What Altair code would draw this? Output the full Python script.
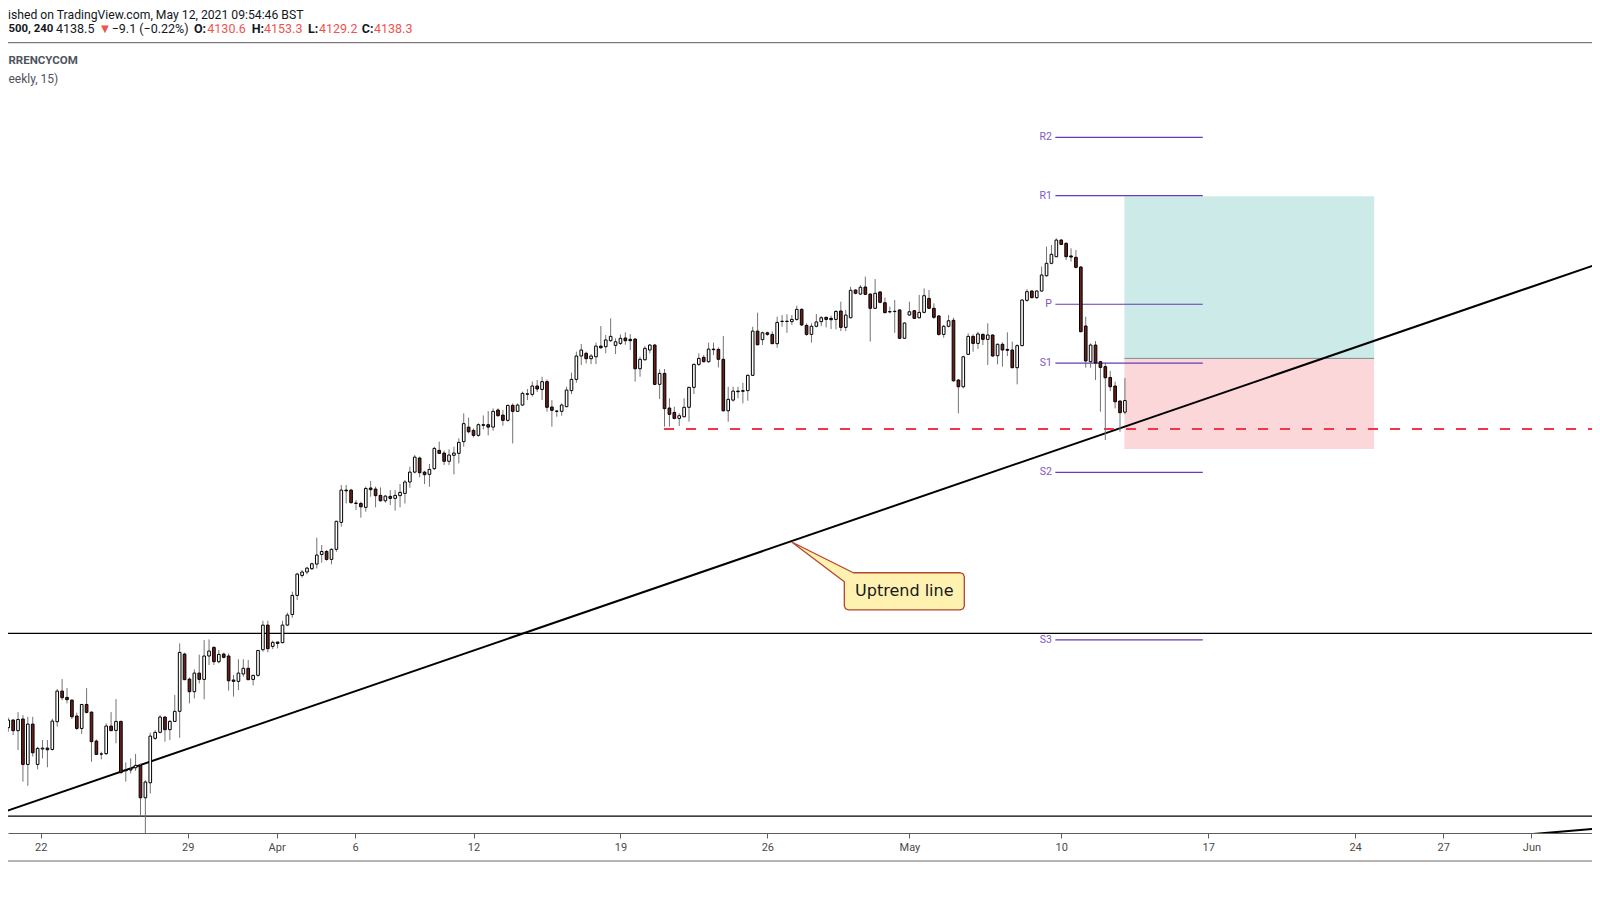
import altair as alt
import pandas as pd

# ---------------- data (4h candles, index 0 = first visible candle) ----------------
opens = [
3960.2, 3920.2, 3925.3, 3918.2, 3926.0, 3895.7, 3922.6, 3895.7, 3906.0, 3906.6,
3905.7, 3924.2, 3944.6, 3940.4, 3938.6, 3928.0, 3919.7, 3935.7, 3930.6, 3911.3,
3902.6, 3902.9, 3921.3, 3918.4, 3924.4, 3892.0, 3892.0, 3893.5, 3894.9, 3873.5,
3883.5, 3913.1, 3917.1, 3927.3, 3918.9, 3924.4, 3931.1, 3969.3, 3952.6, 3944.2,
3956.6, 3952.4, 3968.0, 3973.7, 3964.2, 3969.3, 3968.0, 3952.0, 3951.1, 3956.0,
3959.8, 3952.4, 3955.1, 3972.2, 3988.6, 3974.4, 3977.3, 3976.9, 3988.6, 3995.7,
4008.4, 4021.7, 4024.0, 4026.2, 4029.3, 4035.7, 4037.7, 4032.4, 4039.1, 4057.1,
4078.6, 4078.6, 4070.0, 4069.7, 4067.1, 4080.0, 4079.3, 4075.1, 4071.5, 4074.4,
4073.1, 4074.9, 4076.4, 4084.0, 4090.6, 4100.0, 4090.6, 4089.1, 4092.9, 4105.1,
4103.3, 4097.8, 4101.8, 4103.1, 4110.9, 4120.6, 4118.4, 4115.1, 4122.2, 4122.2,
4120.6, 4132.0, 4128.6, 4125.1, 4135.1, 4131.1, 4135.3, 4142.5, 4142.4, 4148.0,
4145.7, 4150.9, 4134.0, 4131.3, 4131.1, 4134.2, 4144.9, 4152.4, 4168.0, 4169.8,
4166.2, 4167.5, 4174.6, 4174.2, 4178.2, 4175.1, 4176.4, 4180.0, 4179.1, 4179.3,
4159.5, 4165.5, 4172.0, 4175.3, 4149.1, 4156.4, 4133.3, 4130.4, 4126.4, 4127.5,
4133.8, 4147.1, 4162.4, 4167.1, 4164.2, 4172.6, 4172.4, 4165.8, 4131.5, 4138.6,
4144.6, 4144.9, 4144.9, 4155.1, 4184.6, 4178.9, 4183.5, 4182.4, 4176.2, 4191.0,
4191.2, 4190.9, 4192.4, 4199.1, 4188.4, 4182.4, 4187.8, 4190.9, 4193.8, 4193.1,
4192.4, 4198.0, 4187.1, 4193.5, 4212.0, 4209.3, 4214.0, 4209.3, 4199.8, 4210.7,
4203.5, 4197.6, 4197.6, 4198.7, 4179.8, 4195.3, 4198.2, 4193.5, 4197.1, 4206.4,
4199.8, 4194.7, 4182.4, 4187.8, 4191.8, 4152.0, 4147.5, 4169.1, 4181.1, 4176.4,
4182.4, 4179.1, 4182.0, 4168.2, 4175.8, 4172.4, 4172.0, 4160.2, 4174.9, 4205.1,
4211.3, 4206.9, 4211.3, 4221.5, 4229.8, 4234.2, 4245.3, 4243.1, 4234.7, 4233.8,
4227.3, 4188.0, 4164.2, 4175.3, 4164.2, 4160.9, 4153.7, 4148.0, 4138.0, 4130.6,
]
highs = [
3961.0, 3926.9, 3926.0, 3930.6, 3928.6, 3927.5, 3927.5, 3907.5, 3912.0, 3912.0,
3926.2, 3946.0, 3952.6, 3946.6, 3939.0, 3930.2, 3936.0, 3946.6, 3931.0, 3912.4,
3904.2, 3923.1, 3930.6, 3939.3, 3924.9, 3897.1, 3899.7, 3902.7, 3896.4, 3885.3,
3916.9, 3918.6, 3928.6, 3928.0, 3925.3, 3942.0, 3976.4, 3970.2, 3953.7, 3959.1,
3968.9, 3978.6, 3979.1, 3974.6, 3972.0, 3970.2, 3969.7, 3955.3, 3965.8, 3965.8,
3965.3, 3955.5, 3972.0, 3991.5, 3991.5, 3978.2, 3977.5, 3991.5, 3996.9, 4010.9,
4023.5, 4025.3, 4027.5, 4030.2, 4046.9, 4042.0, 4038.6, 4039.8, 4058.2, 4082.0,
4082.0, 4079.5, 4072.0, 4070.9, 4080.9, 4084.7, 4080.9, 4080.4, 4075.3, 4078.6,
4078.6, 4082.6, 4085.3, 4094.2, 4102.0, 4100.9, 4091.5, 4096.0, 4107.5, 4110.9,
4104.9, 4105.8, 4107.5, 4113.1, 4129.8, 4126.9, 4119.7, 4123.1, 4128.4, 4131.3,
4133.1, 4133.1, 4132.0, 4135.5, 4136.4, 4136.4, 4144.2, 4146.0, 4151.0, 4152.0,
4154.2, 4152.4, 4138.6, 4132.0, 4136.4, 4147.5, 4156.9, 4170.9, 4176.0, 4170.9,
4169.3, 4176.9, 4188.0, 4182.0, 4193.1, 4179.8, 4182.4, 4183.8, 4182.6, 4179.8,
4167.5, 4174.6, 4176.0, 4176.0, 4159.1, 4159.3, 4139.8, 4134.2, 4129.8, 4139.8,
4147.5, 4163.1, 4169.8, 4168.7, 4176.9, 4176.9, 4173.8, 4181.3, 4147.5, 4147.5,
4147.5, 4150.2, 4155.8, 4187.5, 4196.9, 4184.2, 4184.2, 4184.4, 4194.2, 4195.3,
4195.8, 4195.3, 4201.5, 4199.8, 4189.8, 4189.8, 4196.0, 4194.6, 4194.2, 4194.9,
4198.6, 4204.2, 4198.7, 4214.2, 4212.4, 4215.3, 4220.9, 4209.8, 4219.3, 4211.3,
4206.9, 4200.9, 4205.3, 4199.1, 4190.4, 4204.2, 4198.7, 4208.7, 4213.1, 4212.0,
4203.1, 4195.3, 4188.7, 4195.3, 4193.5, 4152.6, 4168.2, 4183.1, 4182.4, 4184.2,
4183.1, 4189.8, 4182.4, 4176.4, 4177.1, 4183.8, 4177.6, 4175.8, 4206.0, 4212.6,
4212.0, 4212.0, 4227.5, 4240.9, 4242.0, 4246.4, 4246.0, 4243.8, 4239.8, 4238.7,
4228.0, 4194.2, 4176.4, 4178.0, 4164.7, 4163.8, 4158.0, 4150.9, 4138.2, 4153.3,
]
lows = [
3907.5, 3917.5, 3915.3, 3905.3, 3884.2, 3881.5, 3900.9, 3892.4, 3899.7, 3893.8,
3904.9, 3920.9, 3938.6, 3936.4, 3926.0, 3918.6, 3916.0, 3929.7, 3897.5, 3902.0,
3899.1, 3902.0, 3918.0, 3909.8, 3889.7, 3884.2, 3889.7, 3891.5, 3860.9, 3840.0,
3876.4, 3912.0, 3916.4, 3910.9, 3912.0, 3924.0, 3913.5, 3952.0, 3936.4, 3939.7,
3949.7, 3939.1, 3962.0, 3962.0, 3963.1, 3966.4, 3944.9, 3940.9, 3945.3, 3954.2,
3952.0, 3948.4, 3954.2, 3970.9, 3970.4, 3972.6, 3973.1, 3976.4, 3988.0, 3993.5,
4005.3, 4020.2, 4022.4, 4025.3, 4026.4, 4030.2, 4031.5, 4029.1, 4037.5, 4054.2,
4069.7, 4069.7, 4065.3, 4060.2, 4064.2, 4074.2, 4067.1, 4070.9, 4070.2, 4068.6,
4064.9, 4067.1, 4069.7, 4080.2, 4089.7, 4087.1, 4082.6, 4080.9, 4092.0, 4102.7,
4095.3, 4095.3, 4089.1, 4096.4, 4107.5, 4116.4, 4113.8, 4114.2, 4119.1, 4115.1,
4118.2, 4127.5, 4121.5, 4124.2, 4109.7, 4130.9, 4134.7, 4138.6, 4141.0, 4144.0,
4138.6, 4130.9, 4120.9, 4127.5, 4128.2, 4133.8, 4142.6, 4150.2, 4162.0, 4163.1,
4162.6, 4162.6, 4172.9, 4169.8, 4177.5, 4169.3, 4175.3, 4175.5, 4172.0, 4150.9,
4154.2, 4164.9, 4169.8, 4148.6, 4139.3, 4120.9, 4120.9, 4125.8, 4121.3, 4127.1,
4124.2, 4142.6, 4161.5, 4163.7, 4163.5, 4168.7, 4160.4, 4130.9, 4124.2, 4137.5,
4139.8, 4136.4, 4138.2, 4154.6, 4175.1, 4175.3, 4181.5, 4176.0, 4173.5, 4187.5,
4183.5, 4188.7, 4191.5, 4188.0, 4181.5, 4176.9, 4187.1, 4188.0, 4187.1, 4186.0,
4185.8, 4184.6, 4184.6, 4193.1, 4209.1, 4208.7, 4208.7, 4177.6, 4199.3, 4203.1,
4196.4, 4196.4, 4183.5, 4179.3, 4179.3, 4194.9, 4192.7, 4193.1, 4196.4, 4199.3,
4192.7, 4181.5, 4180.2, 4187.1, 4150.9, 4129.8, 4146.4, 4168.7, 4170.9, 4172.7,
4175.3, 4162.0, 4167.5, 4162.4, 4160.9, 4168.0, 4159.8, 4149.1, 4174.6, 4204.2,
4206.4, 4206.0, 4210.9, 4220.9, 4229.1, 4233.8, 4242.0, 4232.0, 4230.9, 4226.4,
4183.8, 4160.2, 4160.2, 4152.0, 4130.9, 4112.0, 4144.6, 4133.1, 4117.5, 4129.2,
]
closes = [
3917.5, 3925.3, 3918.2, 3925.7, 3895.7, 3922.6, 3903.5, 3906.4, 3906.6, 3905.5,
3924.6, 3944.6, 3940.2, 3938.9, 3927.5, 3919.7, 3935.7, 3930.4, 3910.9, 3902.4,
3902.7, 3921.3, 3918.2, 3924.4, 3890.2, 3891.5, 3892.6, 3895.1, 3873.5, 3884.0,
3914.6, 3917.1, 3927.3, 3918.9, 3924.4, 3931.1, 3970.4, 3952.2, 3944.2, 3956.6,
3952.4, 3968.0, 3971.3, 3964.2, 3969.1, 3967.1, 3951.5, 3951.1, 3956.6, 3959.8,
3952.2, 3955.1, 3971.7, 3988.6, 3972.9, 3977.1, 3976.4, 3988.6, 3995.3, 4008.4,
4022.6, 4024.0, 4026.6, 4029.5, 4035.3, 4037.7, 4032.4, 4039.1, 4057.8, 4078.6,
4078.1, 4070.2, 4069.7, 4067.5, 4079.7, 4078.9, 4074.9, 4071.5, 4074.6, 4073.1,
4075.1, 4077.1, 4084.0, 4090.6, 4100.6, 4090.2, 4088.9, 4092.4, 4106.4, 4103.1,
4097.8, 4102.0, 4103.3, 4110.4, 4122.9, 4117.5, 4115.1, 4122.2, 4121.8, 4120.6,
4131.1, 4128.2, 4125.1, 4135.1, 4131.1, 4135.3, 4143.1, 4142.8, 4148.0, 4146.0,
4150.9, 4133.8, 4131.8, 4131.1, 4135.3, 4145.3, 4152.4, 4168.0, 4172.0, 4166.2,
4168.0, 4174.6, 4173.5, 4178.7, 4181.1, 4177.5, 4179.8, 4178.2, 4178.2, 4159.5,
4165.8, 4173.1, 4175.3, 4149.1, 4156.4, 4132.9, 4129.1, 4126.4, 4128.2, 4133.8,
4147.1, 4162.4, 4166.4, 4164.2, 4172.6, 4172.2, 4165.8, 4131.5, 4139.1, 4144.6,
4144.2, 4144.5, 4155.1, 4184.6, 4175.5, 4183.5, 4182.4, 4176.2, 4190.4, 4191.2,
4191.0, 4192.4, 4199.1, 4188.7, 4182.4, 4187.8, 4190.7, 4193.5, 4192.4, 4192.2,
4197.7, 4187.1, 4195.3, 4211.8, 4209.8, 4213.8, 4209.1, 4199.8, 4209.8, 4203.8,
4196.9, 4197.4, 4197.8, 4179.8, 4190.0, 4197.5, 4193.1, 4197.1, 4208.2, 4199.8,
4193.8, 4182.4, 4187.8, 4191.5, 4151.5, 4147.5, 4167.5, 4181.1, 4176.4, 4182.7,
4179.1, 4182.0, 4168.0, 4175.8, 4172.0, 4171.8, 4160.2, 4174.9, 4205.3, 4210.9,
4206.9, 4211.3, 4222.0, 4229.8, 4235.8, 4245.3, 4242.4, 4234.2, 4234.0, 4227.1,
4184.2, 4164.7, 4175.3, 4163.3, 4160.4, 4153.5, 4147.5, 4137.5, 4130.2, 4138.3,
]

# x-axis ticks (candle index) and labels
tick_pos = [7.65, 37.65, 55.8, 71.8, 96, 126, 156, 185, 216, 246, 276, 294, 312]
tick_lab = ["22", "29", "Apr", "6", "12", "19", "26", "May", "10", "17", "24", "27", "Jun"]

# weekly pivot levels
pivot_names = ["R2", "R1", "P", "S1", "S2", "S3"]
pivot_levels = [4313.8, 4274.9, 4202.5, 4163.3, 4090.4, 3978.8]
pivot_start, pivot_end = 214.8, 244.9

# horizontal support/resistance lines
hline_levels = [3983.1, 3861.3]

# uptrend line (two anchor points) and second line at bottom-right
trend_i = [-1, 326.5]
trend_p = [3862.8, 4230.4]
trend2_i = [310, 326.5]
trend2_p = [3848.7, 3853.2]

# dashed support
support_level = 4119.3
support_start, support_end = 134.9, 326.5

# long position tool
pos_start, pos_end = 228.9, 279.9
pos_target, pos_entry, pos_stop = 4274.5, 4166.4, 4106.0

# callout shape (anchored on the trend line)
call_i = [160.97, 173.55, 195.40, 195.97, 196.21, 196.21, 195.97, 195.40, 172.53, 171.96, 171.71, 171.71, 160.97]
call_p = [4044.0, 4023.5, 4023.5, 4022.7, 4020.9, 4001.3, 3999.5, 3998.7, 3998.7, 3999.5, 4001.3, 4017.5, 4044.0]
call_text_i, call_text_p = 183.95, 4011.5

# ---------------- chart ----------------
W, H = 1584, 825
xs = alt.Scale(domain=[0.9515, 324.37], nice=False, zero=False)
ys = alt.Scale(domain=[3850, 4400], nice=False, zero=False)

label_expr = "[" + ",".join("'%s'" % t for t in tick_lab) + "][indexof([" + \
    ",".join(str(v) for v in tick_pos) + "], datum.value)]"
xaxis = alt.Axis(values=tick_pos, labelExpr=label_expr, grid=False, title=None,
                 domainColor="#5d5d5d", tickColor="#5d5d5d", tickSize=5,
                 labelFont="Roboto", labelFontSize=11, labelColor="#4a4a4a",
                 labelPadding=3, labelFlush=False, labelOverlap=False)


def X(f):
    return alt.X(f, type="quantitative", scale=xs, axis=xaxis)


def Y(f):
    return alt.Y(f, type="quantitative", scale=ys, axis=None)


candles = pd.DataFrame({"i": list(range(len(opens))), "open": opens, "high": highs,
                        "low": lows, "close": closes})

pos = pd.DataFrame({"x0": [pos_start], "x1": [pos_end], "target": [pos_target],
                    "entry": [pos_entry], "stop": [pos_stop]})
teal = alt.Chart(pos).mark_rect(color="#cceae7").encode(x=X("x0"), x2="x1", y=Y("entry"), y2="target")
pink = alt.Chart(pos).mark_rect(color="#fcd7da").encode(x=X("x0"), x2="x1", y=Y("stop"), y2="entry")
entry_line = alt.Chart(pos).mark_rule(color="#7f8b8b", strokeWidth=1).encode(x=X("x0"), x2="x1", y=Y("entry"))

hl = alt.Chart(pd.DataFrame({"level": hline_levels})).mark_rule(color="black", strokeWidth=1.2).encode(y=Y("level"))

trend = alt.Chart(pd.DataFrame({"i": trend_i, "p": trend_p})).mark_line(
    color="black", strokeWidth=2, clip=True).encode(x=X("i"), y=Y("p"))
trend2 = alt.Chart(pd.DataFrame({"i": trend2_i, "p": trend2_p})).mark_line(
    color="black", strokeWidth=2, clip=True).encode(x=X("i"), y=Y("p"))

dash = alt.Chart(pd.DataFrame({"x0": [support_start], "x1": [support_end], "level": [support_level]})).mark_rule(
    color="#f23645", strokeWidth=2, strokeDash=[10, 12], clip=True).encode(x=X("x0"), x2="x1", y=Y("level"))

piv = pd.DataFrame({"name": pivot_names, "level": pivot_levels,
                    "x0": [pivot_start] * 6, "x1": [pivot_end] * 6})
piv_lines = alt.Chart(piv).mark_rule(color="#673ab7", strokeWidth=1.2).encode(x=X("x0"), x2="x1", y=Y("level"))
piv_text = alt.Chart(piv).mark_text(align="right", baseline="middle", dx=-3.5, font="Roboto",
                                    fontSize=10.5, color="#7e57c2").encode(x=X("x0"), y=Y("level"), text="name:N")

wicks = alt.Chart(candles).mark_rule(color="#737373", strokeWidth=1, clip=True).encode(
    x=X("i"), y=Y("low"), y2="high")
bodies = alt.Chart(candles).transform_calculate(
    xl="datum.i - 0.27", xr="datum.i + 0.27").mark_rect(stroke="black", strokeWidth=1, clip=True).encode(
    x=X("xl"), x2="xr", y=Y("open"), y2="close",
    fill=alt.condition("datum.close >= datum.open", alt.value("#ffffff"), alt.value("#6b1f1a")))

callout = alt.Chart(pd.DataFrame({"k": list(range(len(call_i))), "i": call_i, "p": call_p})).mark_line(
    fill="#fff2b0", stroke="#b5452e", strokeWidth=1.3, strokeJoin="round").encode(
    x=X("i"), y=Y("p"), order="k:Q")
callout_text = alt.Chart(pd.DataFrame({"t": ["Uptrend line"], "i": [call_text_i], "p": [call_text_p]})).mark_text(
    font="DejaVu Sans", fontSize=16, color="#131722", align="center", baseline="middle").encode(
    x=X("i"), y=Y("p"), text="t:N")


def txt(s, x, y, align="left", color="#131722", size=12.5, weight="normal"):
    return alt.Chart(pd.DataFrame({"t": [s]})).mark_text(
        align=align, baseline="middle", font="Roboto", fontSize=size, color=color,
        fontWeight=weight).encode(x=alt.value(x), y=alt.value(y), text="t:N")


red = "#ef5350"
header = [
    txt("ished on TradingView.com, May 12, 2021 09:54:46 BST", 0, 7.0, size=12.2),
    txt("500, 240", 0.5, 21.3, weight="bold", size=11.4),
    txt("4138.5", 48, 21.3),
    txt("\u25bc", 90.5, 21.3, color=red, size=13),
    txt("\u22129.1 (\u22120.22%)", 103.7, 21.3),
    txt("O:", 186, 21.3, weight="bold"),
    txt("4130.6", 199.3, 21.3, color=red),
    txt("H:", 243.7, 21.3, weight="bold"),
    txt("4153.3", 256, 21.3, color=red),
    txt("L:", 300, 21.3, weight="bold"),
    txt("4129.2", 311, 21.3, color=red),
    txt("C:", 353.7, 21.3, weight="bold"),
    txt("4138.3", 366, 21.3, color=red),
    txt("RRENCYCOM", 0.5, 52.7, color="#50535e", weight="bold", size=11.5),
    txt("eekly, 15)", 0.5, 70.6, color="#50535e", size=12),
]

one = pd.DataFrame({"a": [0]})
sep = alt.Chart(one).mark_rule(color="#5d5d5d", strokeWidth=1).encode(
    x=alt.value(0), x2=alt.value(W), y=alt.value(34.7))
bottom = alt.Chart(one).mark_rule(color="#6b6b6b", strokeWidth=1).encode(
    x=alt.value(0), x2=alt.value(W), y=alt.value(853))

chart = alt.layer(
    teal, pink, entry_line, hl, trend, trend2, dash, piv_lines, piv_text, wicks, bodies,
    callout, callout_text, sep, bottom, *header
).properties(
    width=W, height=H,
    autosize=alt.AutoSizeParams(type="none"),
    padding={"left": 0, "right": 0, "top": 0, "bottom": 48},
).configure_view(stroke=None)

chart.save("out.html", embed_options={"renderer": "svg", "actions": False})
